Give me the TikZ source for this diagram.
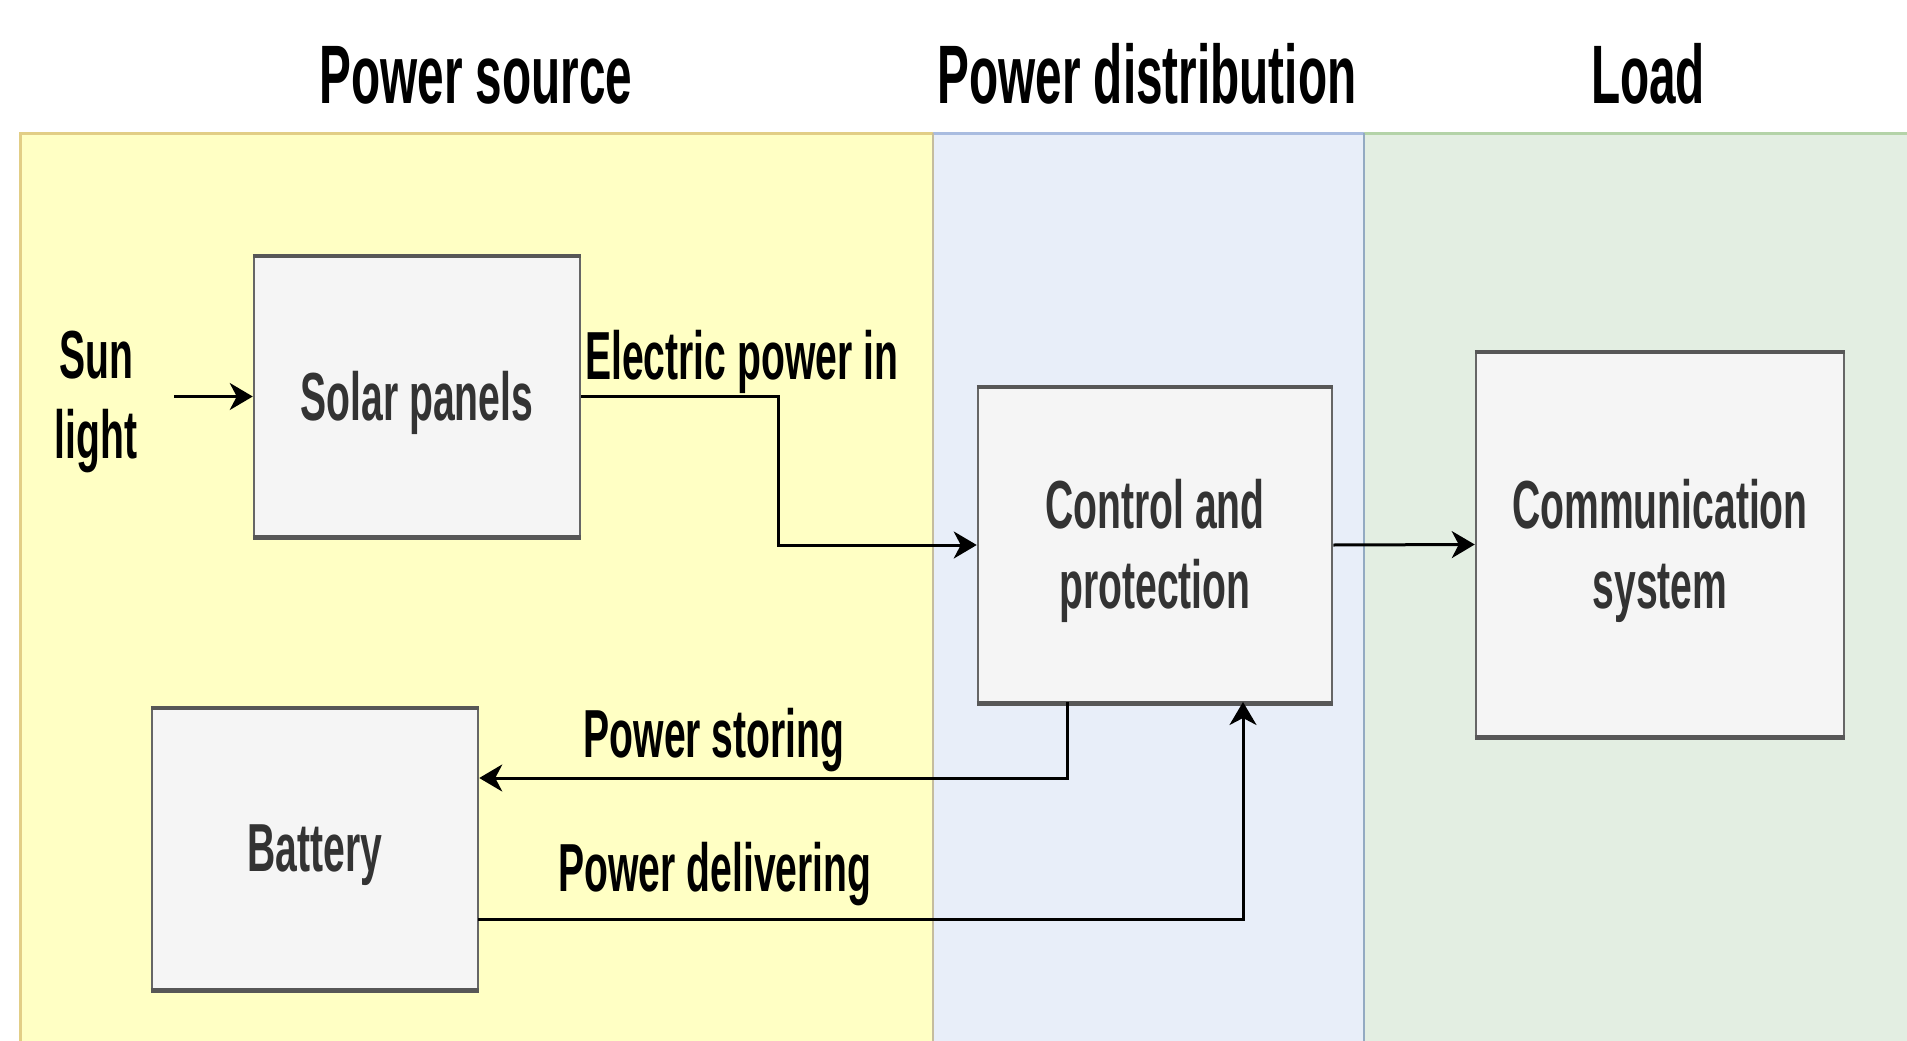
\documentclass[tikz,border=0pt]{standalone}
\usepackage{fontspec}
\setmainfont{Liberation Sans}[FakeStretch=0.575]
\usetikzlibrary{arrows.meta}
\definecolor{yfill}{HTML}{FFFFC4}
\definecolor{yline}{HTML}{E2CE86}
\definecolor{bfill}{HTML}{E8EEF9}
\definecolor{bline}{HTML}{A9BCE0}
\definecolor{gfill}{HTML}{E3EEE2}
\definecolor{gline}{HTML}{B4D3A8}
\definecolor{sepbg}{HTML}{93AAC2}
\definecolor{boxfill}{HTML}{F5F5F5}
\definecolor{boxline}{HTML}{666666}
\definecolor{boxtext}{HTML}{333333}
\tikzset{
  blk/.style={draw=boxline, fill=boxfill, line width=2.5pt, inner sep=0pt},
  blktxt/.style={text=boxtext, font=\fontsize{68}{80}\selectfont\bfseries,
    align=center, inner sep=0pt, yshift=-6pt},
  hdr/.style={font=\fontsize{83}{90}\selectfont\bfseries, anchor=base},
  lbl/.style={font=\fontsize{68}{80}\selectfont\bfseries, inner sep=0pt},
  conn/.style={line width=3pt, -{Stealth[length=23pt,width=27pt,inset=7pt]}},
  edge3/.style={draw=boxline!85!black, line width=4.5pt},
}
\begin{document}
\begin{tikzpicture}[x=1pt,y=-1pt]
\useasboundingbox (0,0) rectangle (1907,1041);
\fill[white] (0,0) rectangle (1907,1041);
% lanes
\fill[yfill] (20,133) rectangle (933,1041);
\fill[bfill] (933,133) rectangle (1364,1041);
\fill[gfill] (1364,133) rectangle (1907,1041);
\draw[yline, line width=3pt] (20,1041) -- (20,133) -- (933,133);
\draw[bline, line width=3pt] (933,133) -- (1364,133);
\draw[gline, line width=3pt] (1364,133) -- (1907,133);
\draw[yline!70!black!60, line width=1.5pt] (933,133) -- (933,1041);
\draw[sepbg, line width=1.5pt] (1364,133) -- (1364,1041);
% headers
\node[hdr] (h1) at (476,103) {Power source};
\node[hdr] (h2) at (1147,103) {Power distribution};
\node[hdr] (h3) at (1648,103) {Load};
% boxes
\node[blk, minimum width=326pt, minimum height=279pt] (solar) at (417,396.5) {};
\node[blk, minimum width=354pt, minimum height=314pt] (ctrl) at (1155,545) {};
\node[blk, minimum width=368pt, minimum height=383pt] (comm) at (1660,544.5) {};
\node[blk, minimum width=326pt, minimum height=280pt] (batt) at (315,849) {};
\foreach \b in {solar,ctrl,comm,batt}{
  \draw[edge3] (\b.north west) -- (\b.north east);
  \draw[edge3] (\b.south west) -- (\b.south east);
}
\node[blktxt] (solart) at (solar.center) {Solar panels};
\node[blktxt] (ctrlt) at (ctrl.center) {Control and\\protection};
\node[blktxt] (commt) at (comm.center) {Communication\\system};
\node[blktxt] (battt) at (batt.center) {Battery};
% sun light
\node[lbl, align=center] (sun) at (96,402) {Sun\\light};
\coordinate (sunend) at (174,396.5);
\draw[conn] (sunend) -- (solar.west);
% electric power in
\draw[conn] (solar.east) -- (778,396.5) |- (ctrl.west);
\node[lbl, anchor=base west] (epi) at (585,379) {Electric power in};
% control -> comm
\draw[conn] (ctrl.east) -- (comm.west);
% power storing
\coordinate (stA) at (1067,702);
\draw[conn] (stA) |- (batt.east |- 0,778);
\node[lbl, anchor=base] (pst) at (714,757) {Power storing};
% power delivering
\coordinate (dlA) at (478,919);
\draw[conn] (dlA) -| (1243,702);
\node[lbl, anchor=base] (pdl) at (715,891) {Power delivering};
\end{tikzpicture}
\end{document}
